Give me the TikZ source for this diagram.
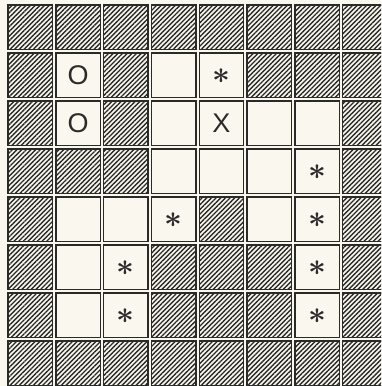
\documentclass[tikz,border=0pt]{standalone}
\usepackage{fontspec}
\setmainfont{Liberation Sans}
\usetikzlibrary{patterns.meta}
\definecolor{paper}{HTML}{FAF8EE}
\definecolor{ink}{HTML}{2A2A2A}
\begin{document}
\begin{tikzpicture}[x=1pt,y=-1pt,
  cell/.style={fill=paper, draw=ink, line width=1.4pt, minimum size=44.5pt,
    inner sep=0pt, outer sep=0pt, anchor=north west,
    font=\fontsize{27}{27}\selectfont, text=ink},
  hatchcell/.style={cell,
    postaction={pattern={Lines[angle=45,distance=3.3pt,line width=1.4pt]}, pattern color=ink},
    postaction={draw=ink, line width=1.4pt}},
  starmk/.style={font=\fontsize{24}{24}\selectfont\boldmath, scale=1.25}
]
\useasboundingbox (0,0) rectangle (381,386);
\fill[paper] (0,0) rectangle (381,386);
\clip (0,0) rectangle (381,386);
% hatched cells
\foreach \r/\c in {0/0,0/1,0/2,0/3,0/4,0/5,0/6,0/7,
  1/0,1/2,1/5,1/6,1/7,
  2/0,2/2,2/7,
  3/0,3/1,3/2,3/7,
  4/0,4/4,4/7,
  5/0,5/3,5/4,5/5,5/7,
  6/0,6/3,6/4,6/5,6/7,
  7/0,7/1,7/2,7/3,7/4,7/5,7/6,7/7}
  \node[hatchcell] (h-\r-\c) at ({8+47.8*\c},{5+48*\r}) {};
% plain cells with letters
\foreach \r/\c/\t in {1/1/O,2/1/O,2/4/X,1/3/{},2/3/{},2/5/{},2/6/{},
  3/3/{},3/4/{},3/5/{},4/1/{},4/2/{},4/5/{},5/1/{},6/1/{}}
  \node[cell] (w-\r-\c) at ({8+47.8*\c},{5+48*\r}) {\t};
% plain cells with asterisks
\foreach \r/\c in {1/4,3/6,4/3,4/6,5/2,5/6,6/2,6/6}
  \node[cell] (s-\r-\c) at ({8+47.8*\c},{5+48*\r}) {};
\foreach \r/\c in {1/4,3/6,4/3,4/6,5/2,5/6,6/2,6/6}
  \node[starmk, text=ink, inner sep=0pt] (a-\r-\c) at ([yshift=-1pt]s-\r-\c.center) {$\ast$};
\end{tikzpicture}
\end{document}
